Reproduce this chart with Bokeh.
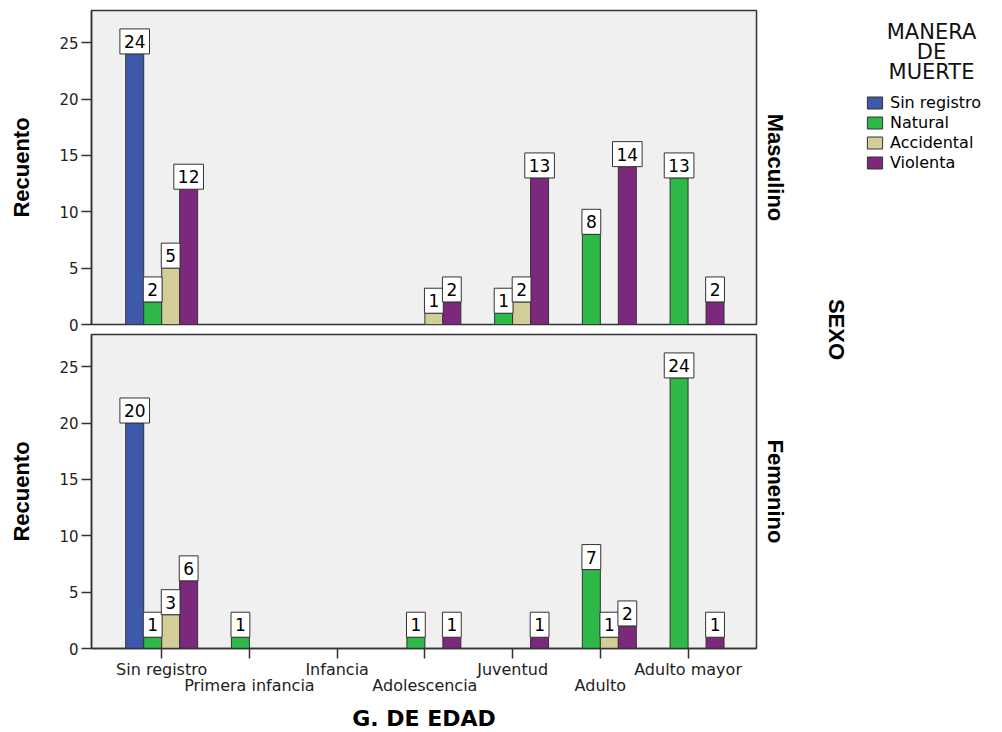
import math

from bokeh.core.properties import value
from bokeh.embed import file_html
from bokeh.layouts import column, row
from bokeh.models import (Arrow, ColumnDataSource, FixedTicker, Label, Range1d,
                          Title)
from bokeh.plotting import figure
from bokeh.resources import INLINE
from bokeh.transform import dodge

# Grupos de edad (eje X) y manera de muerte (series)
age_groups = ["Sin registro", "Primera infancia", "Infancia", "Adolescencia",
              "Juventud", "Adulto", "Adulto mayor"]
manners = ["Sin registro", "Natural", "Accidental", "Violenta"]
manner_keys = ["sin_registro", "natural", "accidental", "violenta"]
manner_colors = ["#3E58AC", "#2EB848", "#D3CE97", "#7C287D"]

# Recuento - SEXO: Masculino
masc_sin_registro = [24, 0, 0, 0, 0, 0, 0]
masc_natural = [2, 0, 0, 0, 1, 8, 13]
masc_accidental = [5, 0, 0, 1, 2, 0, 0]
masc_violenta = [12, 0, 0, 2, 13, 14, 2]

# Recuento - SEXO: Femenino
fem_sin_registro = [20, 0, 0, 0, 0, 0, 0]
fem_natural = [1, 1, 0, 1, 0, 7, 24]
fem_accidental = [3, 0, 0, 0, 0, 1, 0]
fem_violenta = [6, 0, 0, 1, 1, 2, 1]

y_ticks = [0, 5, 10, 15, 20, 25]

BAR_W = 0.205
OFFSETS = [-1.5 * BAR_W, -0.5 * BAR_W, 0.5 * BAR_W, 1.5 * BAR_W]
DARK = "#333333"
PANEL_BG = "#F0F0F0"
TXT = "DejaVu Sans"
BOLD = "Liberation Sans"


def make_panel(series, strip, show_x, border_top, border_bottom):
    p = figure(frame_width=665, frame_height=314,
               x_range=Range1d(-0.8, 6.78), y_range=Range1d(0, 27.85),
               output_backend="svg", toolbar_location=None,
               x_axis_location="below" if show_x else None,
               min_border_left=91, min_border_right=44,
               min_border_top=border_top, min_border_bottom=border_bottom)
    p.background_fill_color = PANEL_BG
    p.border_fill_color = "white"
    p.outline_line_color = DARK
    p.outline_line_width = 1.5
    p.grid.visible = False

    yax = p.yaxis[0]
    yax.ticker = FixedTicker(ticks=y_ticks)
    yax.minor_tick_line_color = None
    yax.major_tick_in = 0
    yax.major_tick_out = 10
    yax.major_tick_line_color = DARK
    yax.major_tick_line_width = 1.5
    yax.axis_line_color = DARK
    yax.axis_line_width = 1.5
    yax.major_label_standoff = 3
    yax.major_label_text_font = TXT
    yax.major_label_text_font_size = "15px"
    yax.major_label_text_color = "#222222"
    yax.axis_label = "Recuento"
    yax.axis_label_text_font = BOLD
    yax.axis_label_text_font_style = "bold"
    yax.axis_label_text_font_size = "22px"
    yax.axis_label_text_color = "black"
    yax.axis_label_standoff = 22

    data = dict(x=list(range(len(age_groups))))
    data.update({k: v for k, v in zip(manner_keys, series)})
    src = ColumnDataSource(data)

    for key, color, off in zip(manner_keys, manner_colors, OFFSETS):
        p.vbar(x=dodge("x", off), top=key, width=BAR_W, source=src,
               fill_color=color, line_color=DARK, line_width=1)

    # value boxes on top of every non-empty bar
    for key, vals, off in zip(manner_keys, series, OFFSETS):
        idx = [i for i, v in enumerate(vals) if v]
        lab = ColumnDataSource(dict(x=idx, y=[vals[i] for i in idx],
                                    t=[str(vals[i]) for i in idx]))
        p.text(x=dodge("x", off), y="y", text="t", source=lab,
               text_align="center", text_baseline="bottom", y_offset=0,
               text_font=value(TXT), text_font_size="17px", text_color="black",
               background_fill_color="white", border_line_color=DARK,
               border_line_width=1,
               padding=dict(left=4, right=4, top=6, bottom=6))

    p.add_layout(Title(text=strip, align="center", text_font=BOLD,
                       text_font_style="bold", text_font_size="22px",
                       text_color="black", standoff=12), "right")
    return p


p1 = make_panel([masc_sin_registro, masc_natural, masc_accidental, masc_violenta],
                "Masculino", False, 10, 9)
p2 = make_panel([fem_sin_registro, fem_natural, fem_accidental, fem_violenta],
                "Femenino", True, 1, 84)

xax = p2.xaxis[0]
xax.ticker = FixedTicker(ticks=list(range(len(age_groups))))
xax.major_label_overrides = {i: (name if i % 2 == 0 else "\n" + name)
                             for i, name in enumerate(age_groups)}
xax.minor_tick_line_color = None
xax.major_tick_in = 0
xax.major_tick_out = 10
xax.major_tick_line_color = DARK
xax.major_tick_line_width = 1.5
xax.axis_line_color = DARK
xax.axis_line_width = 1.5
xax.major_label_standoff = 1
xax.major_label_text_font = TXT
xax.major_label_text_font_size = "16px"
xax.major_label_text_line_height = 0.85
xax.major_label_text_color = "#222222"
xax.axis_label = "G. DE EDAD"
xax.axis_label_text_font = TXT
xax.axis_label_text_font_style = "bold"
xax.axis_label_text_font_size = "22px"
xax.axis_label_text_color = "black"
xax.axis_label_standoff = 8

# longer ticks for the labels set on the second row
odd = [i for i in range(len(age_groups)) if i % 2]
p2.add_layout(Arrow(end=None, source=ColumnDataSource(dict(x=odd, y0=[0] * len(odd),
                                                           y1=[-2.4] * len(odd))),
                    x_start="x", y_start="y0", x_end="x", y_end="y1",
                    line_color=DARK, line_width=1.5))

# right column: SEXO and legend
p3 = figure(width=202, height=732, x_range=Range1d(0, 202), y_range=Range1d(0, 732),
            output_backend="svg", toolbar_location=None,
            x_axis_location=None, y_axis_location=None,
            min_border=0)
p3.outline_line_color = None
p3.grid.visible = False
p3.background_fill_color = "white"

# legend keys (single swatch each, kept outside the visible range)
for name, color in zip(manners, manner_colors):
    p3.vbar(x=[-50], top=[-50], bottom=-60, width=1, fill_color=color,
            line_color=DARK, line_width=1, legend_label=name)

leg = p3.legend[0]
leg.location = (65, 560)
leg.border_line_color = None
leg.background_fill_alpha = 0
leg.padding = 0
leg.margin = 0
leg.spacing = 1
leg.glyph_width = 19
leg.glyph_height = 15
leg.label_height = 16
leg.label_standoff = 6
leg.label_text_font = TXT
leg.label_text_font_size = "16px"
leg.label_text_color = "black"

for txt, base in zip(["MANERA", "DE", "MUERTE"], [31, 51, 71]):
    p3.add_layout(Label(x=131, y=732 - base, x_units="screen", y_units="screen",
                        text=txt, text_align="center", text_baseline="alphabetic",
                        text_font=TXT, text_font_size="21px", text_color="#111111"))

p3.add_layout(Label(x=36, y=732 - 329, x_units="screen", y_units="screen",
                    text="SEXO", angle=-math.pi / 2, text_align="center",
                    text_baseline="middle", text_font=BOLD, text_font_style="bold",
                    text_font_size="22px", text_color="black"))

layout = row(column(p1, p2), p3)
open("out.html", "w").write(file_html(layout, INLINE))
